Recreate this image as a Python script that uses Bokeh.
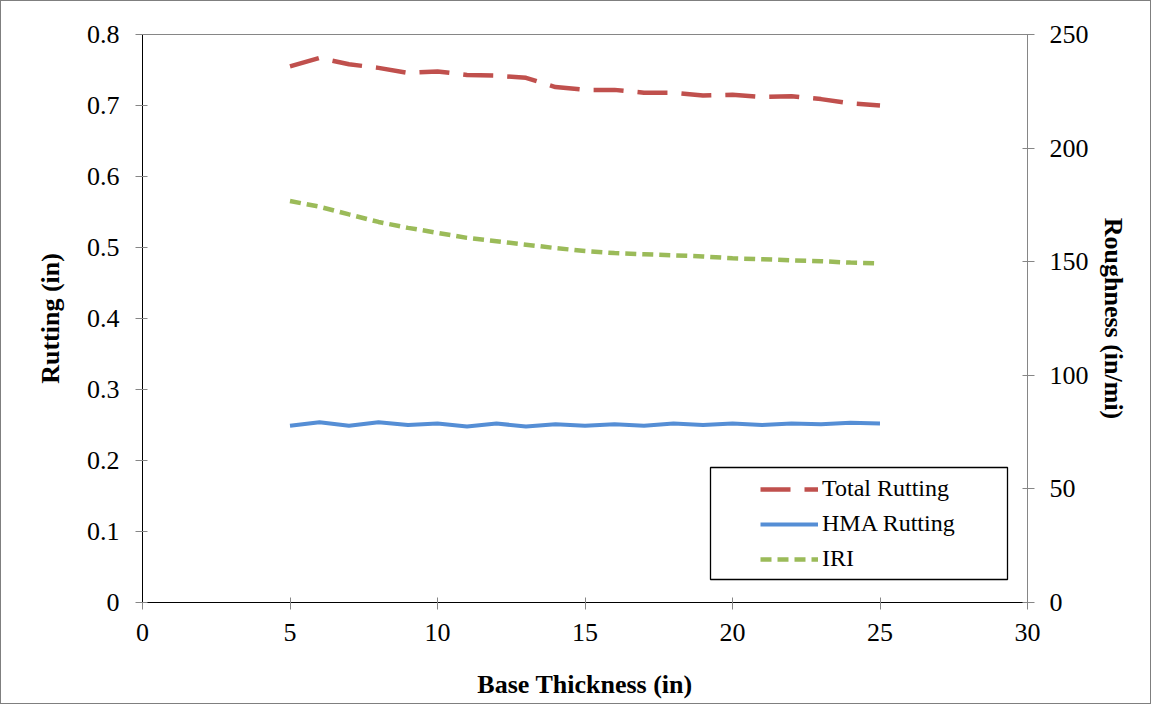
from bokeh.plotting import figure
from bokeh.models import (Range1d, LinearAxis, FixedTicker, NumeralTickFormatter,
                          Legend, LegendItem, BoxAnnotation, Node)
from bokeh.embed import file_html
from bokeh.resources import INLINE

# ---- data ----
base_thickness = [5, 6, 7, 8, 9, 10, 11, 12, 13, 14, 15, 16, 17, 18, 19, 20, 21, 22, 23, 24, 25]
total_rutting = [0.755, 0.767, 0.758, 0.753, 0.746, 0.748, 0.743, 0.742, 0.739, 0.726, 0.722,
                 0.722, 0.718, 0.718, 0.714, 0.715, 0.712, 0.713, 0.709, 0.703, 0.700]
hma_rutting = [0.249, 0.254, 0.249, 0.254, 0.250, 0.252, 0.248, 0.252, 0.248, 0.251, 0.249,
               0.251, 0.249, 0.252, 0.250, 0.252, 0.250, 0.252, 0.251, 0.253, 0.252]
iri = [176.7, 174.2, 170.8, 167.5, 164.9, 162.7, 160.5, 159.0, 157.5, 156.0, 154.7,
       153.8, 153.3, 152.8, 152.3, 151.5, 151.1, 150.6, 150.2, 149.6, 149.3]

x_ticks = [0, 5, 10, 15, 20, 25, 30]
left_ticks = [0, 0.1, 0.2, 0.3, 0.4, 0.5, 0.6, 0.7, 0.8]
right_ticks = [0, 50, 100, 150, 200, 250]

x_title = "Base Thickness (in)"
left_title = "Rutting (in)"
right_title = "Roughness (in/mi)"
series_names = ["Total Rutting", "HMA Rutting", "IRI"]

# ---- styling ----
FONT = "Liberation Serif"
GRAY = "#868686"

p = figure(width=1151, height=704, output_backend="svg", toolbar_location=None,
           x_range=Range1d(0, 30), y_range=Range1d(0, 0.8),
           min_border_left=141, min_border_right=125, min_border_top=33, min_border_bottom=103,
           background_fill_color="white", border_fill_color="white")
p.styles = {"border": "1px solid #7f7f7f", "box-sizing": "border-box"}
p.extra_y_ranges = {"iri": Range1d(0, 250)}
p.xgrid.visible = False
p.ygrid.visible = False
p.outline_line_color = GRAY
p.outline_line_width = 1

def style_axis(ax, line_color):
    ax.axis_line_color = line_color
    ax.axis_line_width = 1
    ax.major_tick_line_color = GRAY
    ax.major_tick_in = 5
    ax.major_tick_out = 7
    ax.minor_tick_line_color = None
    ax.major_label_text_font = FONT
    ax.major_label_text_font_size = "26px"
    ax.major_label_text_color = "black"
    ax.axis_label_text_font = FONT
    ax.axis_label_text_font_size = "26px"
    ax.axis_label_text_font_style = "bold"
    ax.axis_label_text_color = "black"

xa = p.xaxis[0]
xa.ticker = FixedTicker(ticks=x_ticks)
xa.axis_label = x_title
style_axis(xa, "black")
xa.major_label_standoff = 14
xa.axis_label_standoff = 26

ya = p.yaxis[0]
ya.ticker = FixedTicker(ticks=left_ticks)
ya.formatter = NumeralTickFormatter(format="0.[0]")
ya.axis_label = left_title
style_axis(ya, "black")
ya.major_label_standoff = 16
ya.axis_label_standoff = 19

ra = LinearAxis(y_range_name="iri", ticker=FixedTicker(ticks=right_ticks), axis_label=right_title)
style_axis(ra, GRAY)
ra.major_label_standoff = 15
ra.axis_label_standoff = 7
p.add_layout(ra, "right")

r_total = p.line(base_thickness, total_rutting, line_color="#C0504D", line_width=4.5,
                 line_dash="30 14")
r_hma = p.line(base_thickness, hma_rutting, line_color="#558ED5", line_width=4)
r_iri = p.line(base_thickness, iri, y_range_name="iri", line_color="#9BBB59", line_width=4.5,
               line_dash="11 6")

legend = Legend(items=[LegendItem(label=series_names[0], renderers=[r_total]),
                       LegendItem(label=series_names[1], renderers=[r_hma]),
                       LegendItem(label=series_names[2], renderers=[r_iri])],
                location=(618, 30), padding=0, spacing=8, glyph_width=58, glyph_height=20,
                label_height=20, label_standoff=4, label_text_font=FONT,
                label_text_font_size="24px", label_text_color="black", border_line_alpha=0,
                background_fill_alpha=0)
p.add_layout(legend)

legend_box = BoxAnnotation(left=Node(target="frame", symbol="left", offset=568),
                           right=Node(target="frame", symbol="right", offset=-20),
                           top=Node(target="frame", symbol="top", offset=433),
                           bottom=Node(target="frame", symbol="bottom", offset=-23),
                           fill_alpha=0, line_color="black", line_alpha=1.0, line_width=1.3,
                           level="underlay")
p.add_layout(legend_box)

open("out.html", "w").write(file_html(p, INLINE))
